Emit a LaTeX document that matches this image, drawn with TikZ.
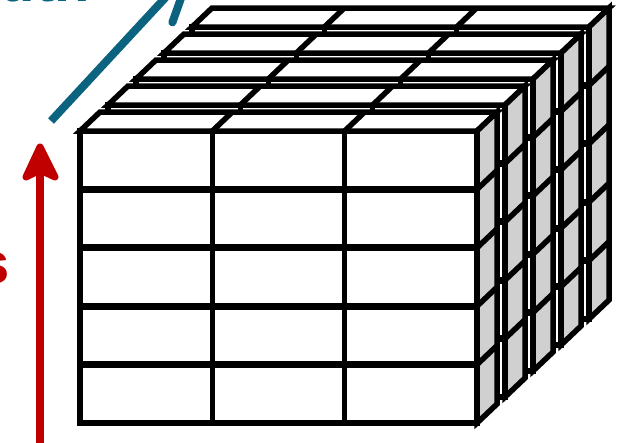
\documentclass[tikz,border=0pt]{standalone}
\usepackage{fontspec}
\setmainfont{Liberation Sans}
\usepackage{xcolor}
\usepackage{tikz}
\usetikzlibrary{arrows.meta, calc}
\definecolor{axRed}{HTML}{C00000}
\definecolor{axTeal}{HTML}{0B6380}
\definecolor{sideGrey}{HTML}{D0D0D0}
\tikzset{
  face/.style={draw=black, line width=5.5pt},
  rowline/.style={draw=black, line width=7pt},
  axlabel/.style={font=\fontsize{58}{60}\selectfont\bfseries, inner sep=0pt, anchor=base east},
  upArr/.style={draw=axRed, line width=8pt},
  upHead/.style={draw=axRed, fill=axRed, line width=7pt, line join=round},
  deepArr/.style={draw=axTeal, line width=8pt, line cap=round, line join=round},
}

\begin{document}
\begin{tikzpicture}[x=1pt, y=-1pt]
  \useasboundingbox (0,0) rectangle (617,442);
  \clip (0,0) rectangle (617,442);
  \fill[white] (0,0) rectangle (617,442);
  % \slab{left}{top}: one layer of 3 x 5 boxes, depth 20/19
  \newcommand{\slab}[2]{
    \filldraw[face, fill=white] (#1,#2) rectangle ++(397,292);
    \foreach \ry in {1,...,4} \draw[rowline] (#1,#2+\ry*58.4) -- ++(397,0);
    \foreach \cx in {1,2} \draw[face] (#1+\cx*132.33,#2) -- ++(0,292);
    \filldraw[face, fill=white] (#1,#2) -- ++(20,-19) -- ++(397,0) -- ++(-20,19) -- cycle;
    \foreach \cx in {1,2} \draw[face] (#1+\cx*132.33,#2) -- ++(20,-19);
    \filldraw[face, fill=sideGrey] (#1+397,#2) -- ++(20,-19) -- ++(0,292) -- ++(-20,19) -- cycle;
    \foreach \ry in {1,...,4} \draw[face] (#1+397,#2+\ry*58.4) -- ++(20,-19);
  }
  % ---- layers, back to front
  \foreach \k in {4,3,2,1,0} {
    \slab{80+28*\k}{131-26*\k}
  }
  % ---- vertical axis (red)
  \coordinate (upTail) at (40,460);
  \coordinate (upTip) at (40,147);
  \coordinate (upNeck) at (40,170);
  \coordinate (headL) at (26,177);
  \coordinate (headR) at (55,177);
  \draw[upArr] (upTail) -- (upNeck);
  \filldraw[upHead] (upTip) -- (headL) -- (upNeck) -- (headR) -- cycle;
  \node[axlabel, text=axRed] (upLabel) at (10,283) {Rows};
  % ---- depth axis (teal)
  \coordinate (deepTail) at (51,121);
  \coordinate (deepTip) at (191,-30);
  \coordinate (barbL) at (140.2,-7.6);
  \coordinate (barbR) at (172.4,22.4);
  \draw[deepArr, line cap=butt] (deepTail) -- (deepTip);
  \draw[deepArr] (barbL) -- (deepTip) -- (barbR);
  \node[axlabel, text=axTeal] (deepLabel) at (90,1) {Width};
\end{tikzpicture}
\end{document}
